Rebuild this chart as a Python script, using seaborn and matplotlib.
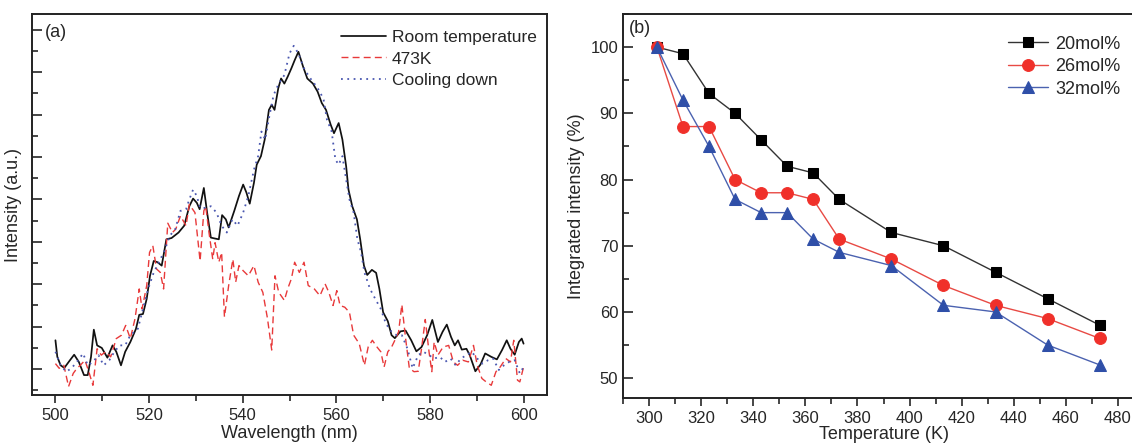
import numpy as np
import pandas as pd
import matplotlib
matplotlib.use("Agg")
import matplotlib.pyplot as plt
from matplotlib.ticker import MultipleLocator
import seaborn as sns

# ---------------- data: panel (a), emission spectra (a.u.) ----------------
wl_room = [500.0, 500.4, 501.1, 501.9, 503.1, 504.0, 505.0, 506.1, 506.9, 507.6, 508.2, 508.9,
           509.9, 511.1, 512.2, 513.0, 514.0, 514.9, 516.0, 517.2, 517.9, 518.7, 519.5, 520.2,
           521.0, 521.8, 522.7, 523.7, 524.8, 526.3, 527.5, 528.6, 529.4, 530.2, 530.8, 531.7,
           532.4, 533.2, 534.0, 534.9, 535.6, 536.4, 537.0, 538.2, 539.2, 540.1, 540.8, 541.5,
           542.4, 543.0, 543.9, 544.7, 545.6, 546.2, 546.8, 547.6, 548.2, 548.9, 549.6, 550.4,
           551.1, 551.9, 552.9, 553.8, 555.0, 556.0, 556.9, 557.8, 558.8, 559.5, 560.5, 561.3,
           562.1, 562.6, 563.4, 564.4, 565.1, 565.9, 566.6, 567.6, 568.5, 569.2, 570.0, 571.0,
           571.8, 572.5, 573.7, 574.8, 576.0, 577.1, 578.2, 579.4, 580.5, 581.7, 582.7, 583.6,
           584.5, 585.3, 586.0, 586.8, 587.8, 588.5, 589.7, 590.8, 591.8, 593.1, 594.3, 595.4,
           596.4, 597.2, 598.1, 599.0, 599.6, 600.0]
int_room = [68, 29, 9, 3, 21, 34, 17, -14, -14, 29, 93, 56,
            50, 27, 56, 41, 9, 41, 64, 95, 128, 130, 166, 220,
            255, 252, 244, 306, 309, 322, 338, 384, 402, 392, 377, 427,
            369, 310, 308, 306, 363, 353, 334, 373, 408, 435, 416, 390,
            439, 482, 502, 541, 611, 623, 611, 662, 685, 673, 689, 709,
            728, 748, 713, 685, 673, 654, 627, 611, 576, 556, 580, 541,
            478, 423, 384, 353, 306, 244, 222, 234, 227, 189, 134, 113,
            80, 73, 89, 91, 68, 42, 52, 80, 116, 64, 88, 105,
            76, 56, 68, 46, 48, 33, -5, 11, 37, 29, 23, 45,
            68, 48, 34, 64, 72, 60]

wl_hot = [500.0, 500.8, 501.8, 502.8, 503.8, 504.6, 505.3, 506.3, 507.1, 508.0, 508.9, 509.8,
          510.7, 511.8, 513.0, 514.1, 515.0, 516.0, 517.0, 517.9, 518.5, 519.5, 520.1, 520.8,
          521.6, 522.4, 523.1, 524.0, 525.0, 525.7, 526.7, 527.9, 528.6, 529.8, 530.9, 531.7,
          532.1, 532.8, 533.6, 534.1, 534.9, 535.5, 536.1, 537.0, 537.9, 538.5, 539.2, 540.1,
          541.2, 542.4, 543.3, 544.3, 545.3, 546.2, 546.9, 547.7, 548.9, 549.6, 550.4, 551.1,
          552.1, 553.1, 554.0, 555.3, 556.5, 557.6, 558.4, 559.3, 560.1, 560.8, 561.8, 562.8,
          563.7, 564.9, 566.0, 566.8, 567.7, 568.7, 569.5, 570.2, 571.0, 571.8, 572.5, 573.3,
          574.0, 574.8, 575.6, 576.6, 577.5, 578.2, 579.0, 579.8, 580.4, 580.9, 581.7, 582.8,
          584.0, 585.0, 585.9, 587.0, 588.2, 589.3, 590.1, 591.1, 592.0, 593.1, 594.1, 595.0,
          596.2, 597.2, 597.9, 598.7, 599.2, 600.0]
int_hot = [13, 2, 9, -41, -10, 2, 9, 21, -5, -38, 48, 33,
           41, 29, 72, 80, 103, 72, 119, 189, 142, 197, 275, 291,
           236, 228, 189, 344, 322, 330, 361, 338, 388, 369, 255, 373,
           384, 322, 259, 298, 252, 275, 123, 197, 259, 205, 244, 232,
           220, 244, 205, 181, 119, 45, 220, 181, 162, 189, 213, 252,
           228, 252, 197, 189, 173, 201, 181, 150, 185, 150, 146, 134,
           80, 60, 9, 52, 68, 52, 41, 5, 41, 52, 68, 88,
           152, 72, 2, -6, -5, 48, 117, 41, -6, 64, 33, 52,
           56, 17, 9, 21, 17, 56, 9, -22, -30, -38, -6, 5,
           25, 17, 68, -26, -30, 5]

wl_cool = [500.0, 501.1, 502.3, 503.4, 504.6, 505.9, 506.9, 508.0, 509.2, 510.3, 511.5, 512.6,
           513.7, 514.9, 516.0, 517.6, 518.7, 519.8, 521.0, 522.1, 523.3, 524.4, 525.6, 526.7,
           527.9, 528.6, 529.4, 530.2, 530.9, 532.1, 533.2, 534.4, 535.5, 536.6, 537.8, 538.9,
           540.1, 541.2, 542.4, 543.3, 544.0, 544.8, 545.6, 546.6, 547.7, 548.9, 550.0, 550.9,
           551.9, 553.1, 554.2, 555.3, 556.5, 557.3, 558.0, 559.0, 559.8, 560.5, 561.3, 562.1,
           562.8, 563.7, 564.5, 565.3, 566.0, 567.2, 568.3, 569.5, 570.6, 571.8, 572.9, 574.0,
           575.2, 576.3, 577.5, 578.6, 579.8, 580.9, 582.1, 583.2, 584.4, 585.5, 586.6, 587.8,
           588.9, 590.1, 591.2, 592.4, 593.5, 594.7, 595.8, 596.9, 598.1, 599.2, 600.0]
int_cool = [41, 9, -6, 2, 17, 37, 9, 17, 33, 9, 21, 41,
            56, 56, 80, 95, 142, 189, 228, 252, 279, 314, 330, 373,
            377, 400, 423, 408, 380, 380, 384, 369, 338, 322, 353, 338,
            369, 408, 470, 502, 560, 541, 591, 646, 673, 693, 744, 762,
            744, 709, 689, 673, 654, 634, 588, 560, 494, 482, 502, 447,
            400, 369, 306, 275, 228, 189, 166, 142, 107, 88, 80, 80,
            48, 2, 33, 41, 33, 25, 29, 17, 25, 9, 25, 33,
            41, 25, 13, 21, 25, -2, 9, 17, 21, -10, 5]

# ---------------- data: panel (b), integrated intensity ----------------
temps = [303, 313, 323, 333, 343, 353, 363, 373, 393, 413, 433, 453, 473]
mol20 = [100, 99, 93, 90, 86, 82, 81, 77, 72, 70, 66, 62, 58]
mol26 = [100, 88, 88, 80, 78, 78, 77, 71, 68, 64, 61, 59, 56]
mol32 = [100, 92, 85, 77, 75, 75, 71, 69, 67, 61, 60, 55, 52]

sns.set_style("ticks")
plt.rcParams['font.family'] = ['Liberation Sans', 'DejaVu Sans']
plt.rcParams['axes.linewidth'] = 1.4
plt.rcParams['axes.edgecolor'] = '#222222'

fig = plt.figure(figsize=(11.32, 4.46), dpi=100)
ax1 = fig.add_axes([0.0283, 0.1143, 0.4549, 0.8543])
ax2 = fig.add_axes([0.5504, 0.1076, 0.4602, 0.8610])

# ---- panel (a)
spec = pd.concat([
    pd.DataFrame({'wl': wl_room, 'I': int_room, 'kind': 'Room temperature'}),
    pd.DataFrame({'wl': wl_hot, 'I': int_hot, 'kind': '473K'}),
    pd.DataFrame({'wl': wl_cool, 'I': int_cool, 'kind': 'Cooling down'}),
])
styles = {'Room temperature': ('#111111', '-', 1.25),
          '473K': ('#e8393a', (0, (5, 3)), 1.0),
          'Cooling down': ('#4a57b0', (0, (1, 2.5)), 1.3)}
for kind, (col, ls, lw) in styles.items():
    sub = spec[spec['kind'] == kind]
    sns.lineplot(data=sub, x='wl', y='I', ax=ax1, color=col, linestyle=ls,
                 linewidth=lw, sort=False, label=kind)

ax1.set_xlim(495, 605)
ax1.set_ylim(-61, 837)
ax1.xaxis.set_major_locator(MultipleLocator(20))
ax1.xaxis.set_minor_locator(MultipleLocator(10))
ax1.yaxis.set_major_locator(MultipleLocator(100))
ax1.yaxis.set_minor_locator(MultipleLocator(50))
ax1.set_yticklabels([])
ax1.tick_params(axis='y', which='both', direction='in', width=1.2)
ax1.tick_params(axis='y', which='major', length=7)
ax1.tick_params(axis='y', which='minor', length=4)
ax1.tick_params(axis='x', which='both', direction='out', width=1.2, labelsize=12)
ax1.tick_params(axis='x', which='major', length=6)
ax1.tick_params(axis='x', which='minor', length=4)
ax1.set_xlabel('Wavelength (nm)', fontsize=13, labelpad=1)
ax1.set_ylabel('Intensity (a.u.)', fontsize=13, labelpad=4)
ax1.text(0.025, 0.975, '(a)', transform=ax1.transAxes, fontsize=13, va='top', ha='left')
ax1.legend(loc='upper right', bbox_to_anchor=(1.0, 0.985), frameon=False, fontsize=12.5,
           handlelength=2.6, handletextpad=0.3, labelspacing=0.35, borderaxespad=0.2)

# ---- panel (b)
series = [('20mol%', mol20, '#000000', '#333333', 's', 7.5),
          ('26mol%', mol26, '#f0302a', '#e84a44', 'o', 8.5),
          ('32mol%', mol32, '#2f4fa8', '#4b62b0', '^', 8.5)]
for name, vals, mcol, lcol, mk, ms in series:
    sns.lineplot(x=temps, y=vals, ax=ax2, color=lcol, linewidth=1.0, marker=mk,
                 markersize=ms, markerfacecolor=mcol, markeredgecolor=mcol,
                 label=name)

ax2.set_xlim(290, 490)
ax2.set_ylim(47, 105)
ax2.xaxis.set_major_locator(MultipleLocator(20))
ax2.xaxis.set_minor_locator(MultipleLocator(10))
ax2.yaxis.set_major_locator(MultipleLocator(10))
ax2.yaxis.set_minor_locator(MultipleLocator(5))
ax2.tick_params(axis='y', which='both', direction='in', width=1.2, labelsize=12)
ax2.tick_params(axis='y', which='major', length=7)
ax2.tick_params(axis='y', which='minor', length=4)
ax2.tick_params(axis='x', which='both', direction='out', width=1.2, labelsize=12)
ax2.tick_params(axis='x', which='major', length=6)
ax2.tick_params(axis='x', which='minor', length=4)
ax2.set_xlabel('Temperature (K)', fontsize=13, labelpad=0)
ax2.set_ylabel('Integrated intensity (%)', fontsize=13, labelpad=4)
ax2.text(0.012, 0.985, '(b)', transform=ax2.transAxes, fontsize=13, va='top', ha='left')
ax2.legend(loc='upper left', bbox_to_anchor=(0.725, 0.962), frameon=False, fontsize=13,
           handlelength=2.2, handletextpad=0.4, labelspacing=0.3, borderaxespad=0.0)

fig.savefig('out.png', dpi=100)
